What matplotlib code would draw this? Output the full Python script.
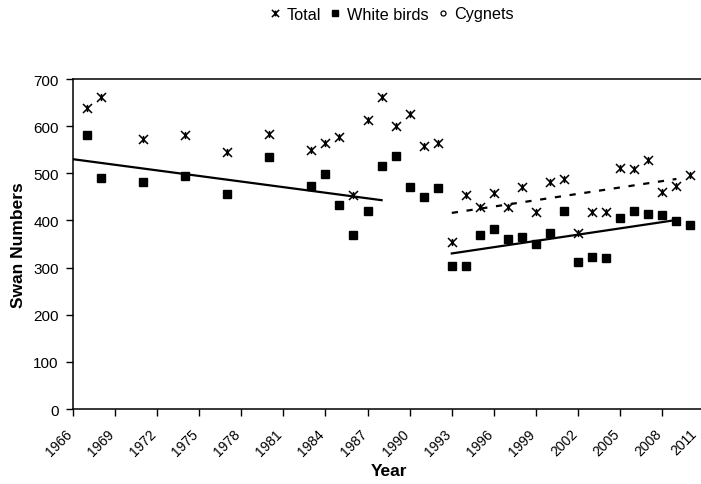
import matplotlib
matplotlib.use("Agg")
import matplotlib.pyplot as plt
import matplotlib.transforms as mtransforms
from matplotlib.path import Path

plt.rcParams['font.family'] = ['Liberation Sans', 'DejaVu Sans']

# counts
years = list(range(1967, 2011))
skip = [1969, 1970, 1972, 1973, 1975, 1976, 1978, 1979, 1981, 1982]
years = [y for y in years if y not in skip]
total = [638, 662, 573, 581, 546, 584, 549, 565, 576, 453, 613, 662,
         600, 626, 557, 565, 354, 455, 429, 458, 429, 472, 418, 482,
         488, 373, 418, 418, 512, 509, 528, 460, 474, 496]
white = [582, 491, 481, 494, 457, 534, 473, 499, 433, 369, 419, 516,
         537, 470, 449, 468, 304, 304, 369, 382, 360, 365, 350, 374,
         419, 312, 323, 321, 406, 419, 414, 412, 398, 390]

# trend line end points
trend1_x = [1966, 1988]
trend1_y = [530, 443]
trend2_x = [1993, 2009]
trend2_y = [330, 401]
trend_tot_x = [1993, 2009]
trend_tot_y = [416, 488]

xticks = list(range(1966, 2012, 3))
yticks = list(range(0, 701, 100))

star = Path([(-1, -1), (1, 1), (-1, 1), (1, -1), (0, -0.8), (0, 0.8)],
            [Path.MOVETO, Path.LINETO, Path.MOVETO, Path.LINETO, Path.MOVETO, Path.LINETO])

fig = plt.figure(figsize=(7.01, 4.85), dpi=100)
ax = fig.add_axes([0.1037, 0.1546, 0.9013, 0.6804])

ax.plot(years, total, linestyle='none', marker=star, markersize=6.5,
        markerfacecolor='none', markeredgecolor='black', markeredgewidth=1.1, label='Total')
ax.plot(years, white, linestyle='none', marker='s', markersize=5.6,
        color='black', label='White birds')
ax.plot([], [], linestyle='none', marker='o', markersize=4.5, markerfacecolor='white',
        markeredgecolor='black', markeredgewidth=0.9, label='Cygnets')

ax.plot(trend1_x, trend1_y, color='black', lw=1.6)
ax.plot(trend2_x, trend2_y, color='black', lw=1.6)
ax.plot(trend_tot_x, trend_tot_y, color='black', lw=1.6, dashes=(2.8, 3.9))

ax.set_xlim(1966, 2011)
ax.set_ylim(0, 700)
ax.set_xticks(xticks)
ax.set_yticks(yticks)
ax.set_xticklabels([str(t) for t in xticks], rotation=45, ha='right',
                   rotation_mode='anchor', fontsize=10)
ax.tick_params(axis='y', labelsize=11, length=5, width=1, direction='out', pad=5)
ax.tick_params(axis='x', length=5, width=1, direction='out', pad=4)
for s in ax.spines.values():
    s.set_linewidth(1.1)

labels = ax.get_xticklabels()
for i, lab in enumerate(labels):
    dx = -15 if i == len(labels) - 1 else -8  # last one kept inside the chart
    lab.set_transform(lab.get_transform() +
                      mtransforms.ScaledTranslation(dx / 100, -5 / 100, fig.dpi_scale_trans))

ax.set_ylabel('Swan Numbers', fontsize=12.5, fontweight='bold', labelpad=5)
ax.set_xlabel('Year', fontsize=12.5, fontweight='bold', labelpad=3)

fig.legend(loc='center', bbox_to_anchor=(392 / 701, 1 - 15 / 485), ncol=3, frameon=False,
           fontsize=11.7, markerscale=0.8, handlelength=0.6, handletextpad=0.4,
           columnspacing=0.6)

fig.savefig('out.png', dpi=100)
